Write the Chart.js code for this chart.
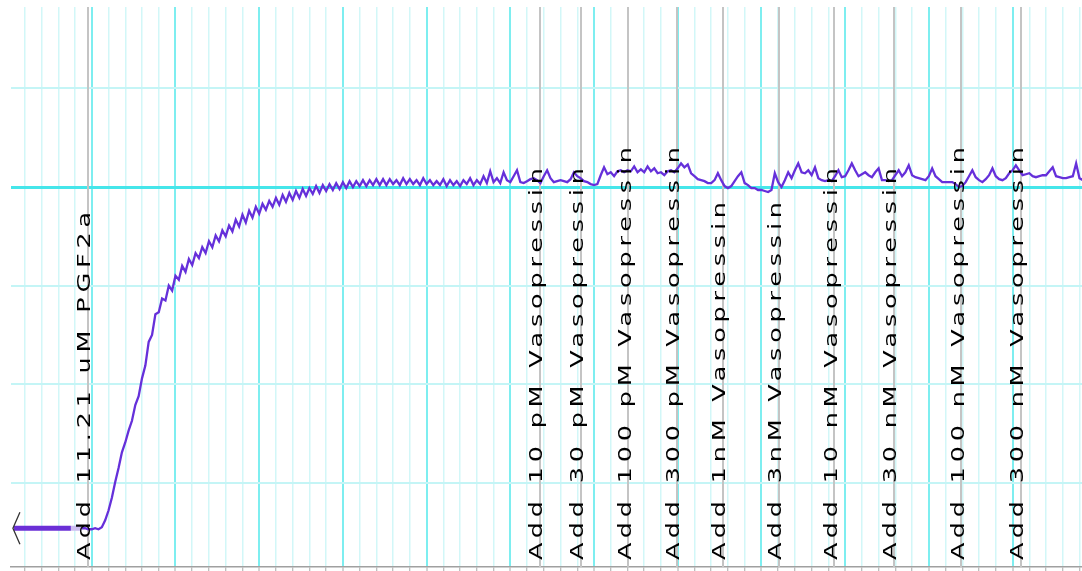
<!DOCTYPE html>
<html>
<head>
<meta charset="utf-8">
<script src="https://cdn.jsdelivr.net/npm/chart.js@4.4.1/dist/chart.umd.min.js"></script>
<style>
  html, body { margin: 0; padding: 0; background: #fff; }
  #trace { display: block; }
</style>
</head>
<body>
<canvas id="trace" width="1082" height="571"></canvas>
<script>
/* =========================
      RECORDING DATA
========================= */

// x in minutes, y in tension units (grid every 100)
const sampleStart = 0.88;
const sampleStep = 0.04;

const tension = [
    54, 54, 53, 53, 54, 53, 55, 62, 72, 85,
    101, 115, 131, 141, 153, 163, 179, 188, 206, 219,
    243, 250, 271, 273, 287, 285, 300, 295, 310, 306,
    320, 314, 327, 321, 333, 328, 339, 333, 345, 339,
    351, 345, 356, 350, 361, 355, 367, 360, 372, 364,
    376, 369, 380, 373, 383, 377, 386, 380, 389, 382,
    392, 385, 394, 387, 396, 389, 398, 391, 399, 393,
    401, 394, 402, 396, 403, 397, 404, 398, 405, 399,
    406, 400, 406, 401, 407, 401, 407, 402, 408, 402,
    408, 402, 408, 403, 407, 402, 409, 403, 408, 403,
    407, 402, 409, 403, 407, 402, 406, 402, 408, 401,
    407, 402, 406, 401, 407, 403, 409, 402, 407, 403,
    411, 404, 416, 405, 409, 404, 415, 407, 405, 411,
    417, 405, 404, 406, 408, 409, 407, 404, 411, 417,
    409, 405, 406, 407, 406, 405, 408, 415, 411, 409,
    406, 405, 403, 402, 403, 412, 420, 413, 415, 411,
    416, 417, 415, 417, 416, 421, 415, 418, 415, 421,
    416, 419, 414, 415, 412, 416, 417, 415, 419, 424,
    420, 423, 414, 411, 408, 407, 406, 404, 404, 407,
    414, 407, 401, 399, 401, 406, 411, 415, 404, 402,
    399, 399, 397, 397, 396, 395, 397, 414, 405, 400,
    407, 415, 409, 417, 424, 415, 414, 417, 412, 420,
    409, 407, 406, 407, 406, 411, 417, 410, 411, 417,
    424, 417, 411, 413, 415, 412, 410, 415, 419, 407,
    407, 406, 407, 412, 417, 411, 415, 422, 412, 410,
    409, 408, 407, 411, 419, 411, 408, 405, 405, 405,
    405, 403, 400, 401, 405, 411, 417, 410, 407, 405,
    408, 412, 419, 411, 408, 407, 409, 414, 417, 422,
    417, 412, 413, 414, 411, 410, 411, 412, 412, 416,
    420, 411, 410, 409, 409, 410, 411, 424, 409, 407
];

// compressed record before the trace starts
const leadInTimes = [0.07, 0.75];
const leadInValues = [54, 54];
const gapTimes = [0.75, 0.88];
const gapValues = [54, 54];

const eventTimes = [0.95, 6.35, 6.84, 7.41, 7.99, 8.54, 9.21, 9.87, 10.58, 11.39, 12.10];
const eventLabels = [
    "Add 11.21 uM PGF2a",
    "Add 10 pM Vasopressin",
    "Add 30 pM Vasopressin",
    "Add 100 pM Vasopressin",
    "Add 300 pM Vasopressin",
    "Add 1nM Vasopressin",
    "Add 3nM Vasopressin",
    "Add 10 nM Vasopressin",
    "Add 30 nM Vasopressin",
    "Add 100 nM Vasopressin",
    "Add 300 nM Vasopressin"
];

const yGridValues = [100, 200, 300, 400, 500];
const referenceLevel = 400;

/* =========================
      PLUGINS
========================= */

const eventMarkers = {
    id: "eventMarkers",
    beforeDatasetsDraw(chart) {
        const ctx = chart.ctx;
        const area = chart.chartArea;
        const x = chart.scales.x;
        ctx.save();
        ctx.strokeStyle = "#c4c4c4";
        ctx.lineWidth = 2;
        eventTimes.forEach(t => {
            const px = Math.round(x.getPixelForValue(t));
            ctx.beginPath();
            ctx.moveTo(px, area.top);
            ctx.lineTo(px, area.bottom);
            ctx.stroke();
        });
        ctx.restore();
    },
    afterDatasetsDraw(chart) {
        const ctx = chart.ctx;
        const x = chart.scales.x;
        const y = chart.scales.y;

        // arrow at the start of the compressed lead-in
        const ax = x.getPixelForValue(leadInTimes[0]) - 1;
        const ay = y.getPixelForValue(leadInValues[0]);
        ctx.save();
        ctx.strokeStyle = "#333";
        ctx.lineWidth = 1.3;
        ctx.beginPath();
        ctx.moveTo(ax + 7, ay - 16);
        ctx.lineTo(ax, ay);
        ctx.lineTo(ax + 7, ay + 16);
        ctx.stroke();
        ctx.restore();

        eventTimes.forEach((t, i) => {
            const px = x.getPixelForValue(t);
            ctx.save();
            ctx.translate(px + 2.5, 560);
            ctx.rotate(-Math.PI / 2);
            ctx.scale(1.5, 1);
            ctx.font = '17px "DejaVu Sans"';
            ctx.letterSpacing = "3.2px";
            ctx.fillStyle = "#000";
            ctx.textBaseline = "alphabetic";
            ctx.textAlign = "left";
            ctx.fillText(eventLabels[i], 0, 0);
            ctx.restore();
        });
    }
};

/* =========================
      CREATE CHART
========================= */

const ctx = document.getElementById("trace");

new Chart(ctx, {
    type: "line",
    data: {
        datasets: [
            {
                data: tension.map((v, i) => ({ x: sampleStart + i * sampleStep, y: v })),
                borderColor: "#6530da",
                borderWidth: 2.3,
                pointRadius: 0,
                tension: 0
            },
            {
                data: leadInValues.map((v, i) => ({ x: leadInTimes[i], y: v })),
                borderColor: "#6a2fd6",
                borderWidth: 5,
                pointRadius: 0
            },
            {
                data: gapValues.map((v, i) => ({ x: gapTimes[i], y: v })),
                borderColor: "#cbbdf0",
                borderWidth: 5,
                pointRadius: 0
            }
        ]
    },
    options: {
        responsive: false,
        animation: false,
        events: [],
        layout: {
            padding: { left: 11, top: 7, right: 0, bottom: 0 }
        },
        plugins: {
            legend: { display: false },
            tooltip: { enabled: false }
        },
        scales: {
            x: {
                type: "linear",
                min: 0.035,
                max: 12.83,
                afterBuildTicks(scale) {
                    const ticks = [];
                    for (let k = 1; k <= 64; k++) ticks.push({ value: k * 0.2 });
                    scale.ticks = ticks;
                },
                ticks: { display: false },
                grid: {
                    drawTicks: true,
                    tickLength: 4,
                    tickColor: "#a8a8a8",
                    tickWidth: 1,
                    color: c => (Math.round(c.tick.value * 5) % 5 === 0 ? "#7eeef0" : "#d2f7f8"),
                    lineWidth: c => (Math.round(c.tick.value * 5) % 5 === 0 ? 2 : 1.5)
                },
                border: { display: true, color: "#a0a0a0", width: 1.5 }
            },
            y: {
                type: "linear",
                min: 14.7,
                max: 582.6,
                afterBuildTicks(scale) {
                    scale.ticks = yGridValues.map(v => ({ value: v }));
                },
                ticks: { display: false },
                grid: {
                    drawTicks: false,
                    color: c => (c.tick.value === referenceLevel ? "#45e6ea" : "#c4f5f6"),
                    lineWidth: c => (c.tick.value === referenceLevel ? 3 : 2)
                },
                border: { display: false }
            }
        }
    },
    plugins: [eventMarkers]
});
</script>
</body>
</html>
